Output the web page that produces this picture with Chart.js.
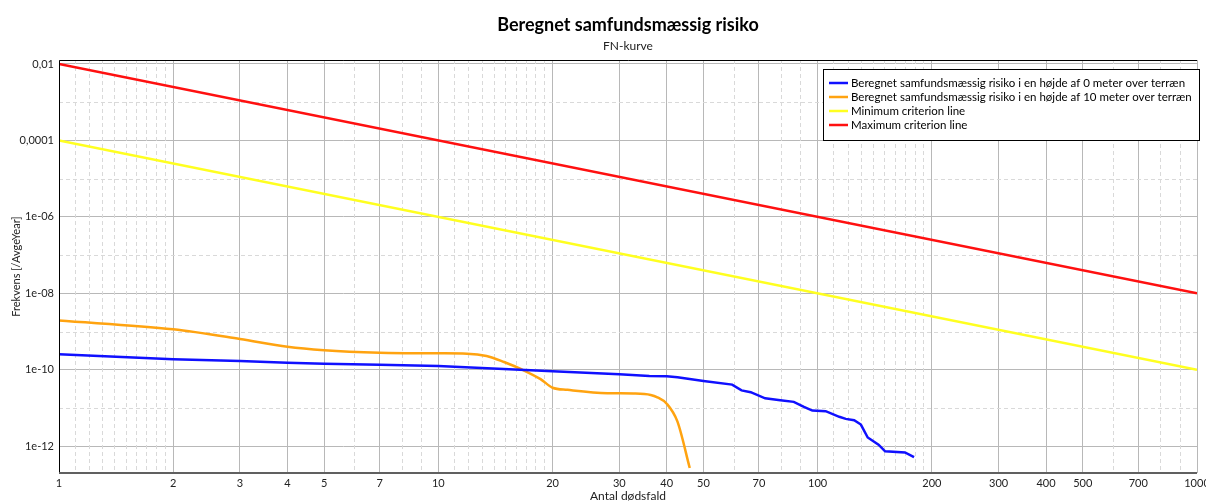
<!DOCTYPE html>
<html>
<head>
<meta charset="utf-8">
<script src="https://cdn.jsdelivr.net/npm/chart.js@4.4.1/dist/chart.umd.min.js"></script>
<style>
  html, body { margin: 0; padding: 0; background: #fff; }
  #wrap { width: 1206px; height: 503px; }
</style>
</head>
<body>
<div id="wrap"><canvas id="myChart"></canvas></div>
<script>
// FN-curve data
const blueN = [1, 2, 3, 4, 5, 7, 10, 20, 30, 36, 40, 42.7, 50, 59.5, 63, 66.6, 72.7, 79.7, 86.5, 92, 96.8, 105, 114, 118.6, 124.8, 130, 135.5, 144.7, 150.6, 169.9, 179.5];
const blueF = [2.55e-10, 1.9e-10, 1.7e-10, 1.52e-10, 1.45e-10, 1.35e-10, 1.25e-10, 9.2e-11, 7.6e-11, 6.9e-11, 6.8e-11, 6.4e-11, 5.1e-11, 4.1e-11, 2.9e-11, 2.6e-11, 1.8e-11, 1.6e-11, 1.45e-11, 1.07e-11, 8.6e-12, 8.3e-12, 5.9e-12, 5.2e-12, 4.8e-12, 3.7e-12, 1.7e-12, 1.1e-12, 7.4e-13, 6.9e-13, 5.2e-13];

const orangeN = [1, 2, 3, 4, 5, 7, 10, 11.9, 13.4, 14.9, 16.6, 18.6, 20, 21.9, 27.9, 32.7, 36.3, 37.8, 40, 42.7, 46];
const orangeF = [1.95e-9, 1.15e-9, 6.4e-10, 4e-10, 3.25e-10, 2.8e-10, 2.7e-10, 2.65e-10, 2.3e-10, 1.6e-10, 1.02e-10, 5.7e-11, 3.4e-11, 3.0e-11, 2.45e-11, 2.4e-11, 2.2e-11, 1.9e-11, 1.3e-11, 4.4e-12, 2.7e-13];

const critN = [1, 1000];
const minF = [1e-4, 1e-10];
const maxF = [1e-2, 1e-8];

const labels = [
  'Beregnet samfundsmæssig risiko i en højde af 0 meter over terræn',
  'Beregnet samfundsmæssig risiko i en højde af 10 meter over terræn',
  'Minimum criterion line',
  'Maximum criterion line'
];

// ticks and grid
const xTicks = [1, 2, 3, 4, 5, 7, 10, 20, 30, 40, 50, 70, 100, 200, 300, 400, 500, 700, 1000];
const xTickLabels = ['1', '2', '3', '4', '5', '7', '10', '20', '30', '40', '50', '70', '100', '200', '300', '400', '500', '700', '1000'];
const xMinor = [1.1, 1.2, 1.3, 1.4, 1.5, 1.6, 1.7, 1.8, 1.9, 6, 8, 9,
  11, 12, 13, 14, 15, 16, 17, 18, 19, 60, 80, 90,
  110, 120, 130, 140, 150, 160, 170, 180, 190, 600, 800, 900];
const yTicks = [1e-2, 1e-4, 1e-6, 1e-8, 1e-10, 1e-12];
const yTickLabels = ['0,01', '0,0001', '1e-06', '1e-08', '1e-10', '1e-12'];
const yMinor = [1e-3, 1e-5, 1e-7, 1e-9, 1e-11];

const pts = (xs, ys) => xs.map((x, i) => ({ x: x, y: ys[i] }));
const FONT = 'Lato, "Noto Sans", sans-serif';

const minorGrid = {
  id: 'minorGrid',
  beforeDatasetsDraw(chart) {
    const { ctx, chartArea: { left, top, right, bottom }, scales: { x, y } } = chart;
    ctx.save();
    ctx.strokeStyle = '#d9d9d9';
    ctx.lineWidth = 1;
    ctx.setLineDash([4, 3]);
    xMinor.forEach(v => {
      const px = Math.round(x.getPixelForValue(v)) + 0.5;
      ctx.beginPath(); ctx.moveTo(px, top); ctx.lineTo(px, bottom); ctx.stroke();
    });
    yMinor.forEach(v => {
      const py = Math.round(y.getPixelForValue(v)) + 0.5;
      ctx.beginPath(); ctx.moveTo(left, py); ctx.lineTo(right, py); ctx.stroke();
    });
    ctx.restore();
  },
  afterDraw(chart) {
    const { ctx, chartArea: { left, top, right, bottom } } = chart;
    ctx.save();
    ctx.strokeStyle = '#000';
    ctx.lineWidth = 1;
    ctx.beginPath();
    ctx.moveTo(left + 0.5, bottom); ctx.lineTo(left + 0.5, top + 0.5); ctx.lineTo(right, top + 0.5);
    ctx.stroke();
    ctx.strokeStyle = '#606060';
    ctx.lineWidth = 2;
    ctx.beginPath(); ctx.moveTo(left, bottom); ctx.lineTo(right, bottom); ctx.stroke();
    ctx.restore();
  }
};

const boxLegend = {
  id: 'boxLegend',
  afterDraw(chart) {
    const { ctx, chartArea: { top, right } } = chart;
    const bx = right - 374, by = top + 9, bw = 376, bh = 71;
    ctx.save();
    ctx.fillStyle = '#fff';
    ctx.fillRect(bx, by, bw, bh);
    ctx.strokeStyle = '#000';
    ctx.lineWidth = 1;
    ctx.strokeRect(bx + 0.5, by + 0.5, bw, bh);
    ctx.font = '11.5px ' + FONT;
    ctx.textBaseline = 'middle';
    chart.data.datasets.forEach((ds, i) => {
      const cy = by + 14 + i * 14;
      ctx.strokeStyle = ds.borderColor;
      ctx.lineWidth = 2.5;
      ctx.beginPath(); ctx.moveTo(bx + 6, cy); ctx.lineTo(bx + 25, cy); ctx.stroke();
      ctx.fillStyle = '#000';
      ctx.fillText(ds.label, bx + 28, cy);
    });
    ctx.restore();
  }
};

const data = {
  datasets: [
    { label: labels[0], data: pts(blueN, blueF), borderColor: '#1010ff', tension: 0 },
    { label: labels[1], data: pts(orangeN, orangeF), borderColor: '#ffa310', cubicInterpolationMode: 'monotone' },
    { label: labels[2], data: pts(critN, minF), borderColor: '#ffff20', tension: 0 },
    { label: labels[3], data: pts(critN, maxF), borderColor: '#ff1010', tension: 0 }
  ]
};

const config = {
  type: 'line',
  data: data,
  options: {
    responsive: true,
    maintainAspectRatio: false,
    animation: false,
    layout: { padding: { left: 0, right: 9, top: 0, bottom: 0 } },
    elements: {
      point: { radius: 0 },
      line: { borderWidth: 2.5 }
    },
    plugins: {
      legend: { display: false },
      tooltip: { enabled: false },
      title: {
        display: true,
        fullSize: false,
        text: 'Beregnet samfundsmæssig risiko',
        color: '#000',
        font: { family: FONT, size: 18, weight: 'bold' },
        padding: { top: 14, bottom: 3 }
      },
      subtitle: {
        display: true,
        fullSize: false,
        text: 'FN-kurve',
        color: '#222',
        font: { family: FONT, size: 12 },
        padding: { top: 0, bottom: 7 }
      }
    },
    scales: {
      x: {
        type: 'logarithmic',
        min: 1,
        max: 1000,
        afterBuildTicks(scale) { scale.ticks = xTicks.map(v => ({ value: v })); },
        afterFit(scale) { scale.height = 30; scale.paddingLeft = 0; scale.paddingRight = 0; },
        ticks: {
          autoSkip: false,
          maxRotation: 0,
          padding: 4,
          color: '#222',
          font: { family: FONT, size: 11 },
          callback: v => xTickLabels[xTicks.indexOf(v)]
        },
        grid: { color: '#b8b8b8', lineWidth: 1, drawTicks: false },
        border: { display: false },
        title: {
          display: true,
          text: 'Antal dødsfald',
          color: '#222',
          font: { family: FONT, size: 12 },
          padding: { top: 0, bottom: 0 }
        }
      },
      y: {
        type: 'logarithmic',
        min: 2e-13,
        max: 0.0127,
        afterBuildTicks(scale) { scale.ticks = yTicks.map(v => ({ value: v })); },
        afterFit(scale) { scale.width = 59; },
        ticks: {
          autoSkip: false,
          padding: 5,
          color: '#222',
          font: { family: FONT, size: 11 },
          callback: v => yTickLabels[yTicks.indexOf(v)]
        },
        grid: { color: '#b8b8b8', lineWidth: 1, drawTicks: false },
        border: { display: false },
        title: {
          display: true,
          text: 'Frekvens [/AvgeYear]',
          color: '#222',
          font: { family: FONT, size: 11 },
          padding: { top: 10, bottom: 0 }
        }
      }
    }
  },
  plugins: [minorGrid, boxLegend]
};

const ctx = document.getElementById('myChart');
new Chart(ctx, config);
</script>
</body>
</html>
